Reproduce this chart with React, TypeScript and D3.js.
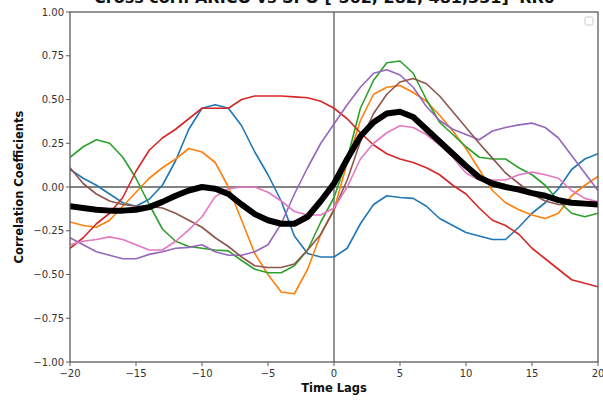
import React from "react";
import * as d3 from "d3";

const lags: number[] = d3.range(-20, 21);

const blueVals = [0.10, 0.05, 0.01, -0.04, -0.09, -0.11, -0.07, 0.01, 0.15, 0.33, 0.45, 0.47, 0.45, 0.35, 0.20, 0.07, -0.08, -0.28, -0.38, -0.40, -0.40, -0.35, -0.21, -0.10, -0.05, -0.06, -0.065, -0.11, -0.18, -0.22, -0.26, -0.28, -0.30, -0.30, -0.23, -0.15, -0.09, -0.01, 0.10, 0.16, 0.19];
const orangeVals = [-0.20, -0.22, -0.23, -0.19, -0.11, -0.03, 0.05, 0.11, 0.16, 0.22, 0.20, 0.14, 0.00, -0.19, -0.38, -0.50, -0.60, -0.61, -0.47, -0.27, -0.13, 0.14, 0.38, 0.53, 0.57, 0.58, 0.54, 0.49, 0.41, 0.32, 0.22, 0.10, -0.02, -0.09, -0.13, -0.16, -0.18, -0.15, -0.05, 0.01, 0.06];
const greenVals = [0.17, 0.23, 0.27, 0.25, 0.17, 0.05, -0.10, -0.24, -0.31, -0.34, -0.35, -0.36, -0.365, -0.42, -0.47, -0.49, -0.49, -0.45, -0.36, -0.20, -0.06, 0.16, 0.45, 0.61, 0.71, 0.72, 0.65, 0.50, 0.37, 0.30, 0.23, 0.17, 0.16, 0.16, 0.11, 0.07, 0.01, -0.08, -0.15, -0.17, -0.15];
const redVals = [-0.35, -0.29, -0.21, -0.15, -0.06, 0.09, 0.21, 0.28, 0.33, 0.39, 0.45, 0.45, 0.45, 0.50, 0.52, 0.52, 0.52, 0.515, 0.51, 0.49, 0.45, 0.39, 0.31, 0.24, 0.19, 0.16, 0.14, 0.11, 0.07, 0.01, -0.04, -0.12, -0.19, -0.22, -0.27, -0.35, -0.41, -0.47, -0.53, -0.55, -0.57];
const purpleVals = [-0.29, -0.33, -0.37, -0.39, -0.41, -0.41, -0.385, -0.37, -0.35, -0.345, -0.33, -0.37, -0.39, -0.39, -0.37, -0.33, -0.21, -0.04, 0.11, 0.25, 0.36, 0.47, 0.57, 0.65, 0.67, 0.64, 0.57, 0.46, 0.38, 0.33, 0.30, 0.27, 0.32, 0.34, 0.355, 0.365, 0.34, 0.28, 0.18, 0.08, -0.02];
const brownVals = [0.11, 0.02, -0.04, -0.08, -0.10, -0.11, -0.11, -0.12, -0.15, -0.19, -0.23, -0.29, -0.34, -0.40, -0.45, -0.46, -0.46, -0.44, -0.36, -0.27, -0.13, 0.04, 0.26, 0.42, 0.53, 0.60, 0.62, 0.59, 0.52, 0.43, 0.34, 0.25, 0.165, 0.08, 0.02, -0.04, -0.08, -0.10, -0.10, -0.10, -0.09];
const pinkVals = [-0.33, -0.31, -0.30, -0.285, -0.30, -0.33, -0.36, -0.36, -0.31, -0.245, -0.17, -0.055, -0.01, 0.00, 0.00, -0.03, -0.08, -0.14, -0.16, -0.16, -0.12, 0.00, 0.16, 0.25, 0.31, 0.35, 0.34, 0.30, 0.24, 0.17, 0.08, 0.04, 0.04, 0.04, 0.07, 0.085, 0.07, 0.05, -0.02, -0.065, -0.085];
const meanVals = [-0.11, -0.12, -0.13, -0.135, -0.135, -0.13, -0.115, -0.085, -0.05, -0.02, 0.00, -0.01, -0.04, -0.10, -0.155, -0.19, -0.21, -0.21, -0.17, -0.08, 0.02, 0.16, 0.29, 0.37, 0.42, 0.43, 0.40, 0.33, 0.26, 0.19, 0.12, 0.055, 0.02, 0.00, -0.015, -0.035, -0.05, -0.075, -0.09, -0.095, -0.10];

const colorSeries: { name: string; values: number[]; color: string }[] = [
  { name: "s0", values: blueVals, color: "#1f77b4" },
  { name: "s1", values: orangeVals, color: "#ff7f0e" },
  { name: "s2", values: greenVals, color: "#2ca02c" },
  { name: "s3", values: redVals, color: "#d62728" },
  { name: "s4", values: purpleVals, color: "#9467bd" },
  { name: "s5", values: brownVals, color: "#8c564b" },
  { name: "s6", values: pinkVals, color: "#e377c2" },
];

const xTicks = [-20, -15, -10, -5, 0, 5, 10, 15, 20];
const yTicks = [1, 0.75, 0.5, 0.25, 0, -0.25, -0.5, -0.75, -1];

const titleText = "Cross corr. ARICO vs SPO [-562, 282, 481,331] 'RR0'";
const xLabel = "Time Lags";
const yLabel = "Correlation Coefficients";

const W = 603;
const H = 401;
const L = 70;
const R = 598;
const T = 12;
const B = 362;

const fmt = (v: number) => (v < 0 ? "\u2212" : "") + Math.abs(v).toFixed(2);
const fmtX = (v: number) => (v < 0 ? "\u2212" : "") + Math.abs(v).toString();

export default function App() {
  const x = d3.scaleLinear().domain([-20, 20]).range([L, R]);
  const y = d3.scaleLinear().domain([-1, 1]).range([B, T]);
  const line = d3
    .line<number>()
    .x((_, i) => x(lags[i]))
    .y((d) => y(d));

  const font = "'DejaVu Sans', sans-serif";
  const axisColor = "#5a5a5a";
  const tickText = "#333";

  return (
    <div style={{ position: "absolute", left: 0, top: 0 }}>
      <svg width={W} height={H} style={{ display: "block", background: "#fff" }} fontFamily={font}>
        <rect x={0} y={0} width={W} height={H} fill="#fff" />
        <text x={327} y={2.5} textAnchor="middle" fontSize={16} fontWeight="bold" fill="#111">
          {titleText}
        </text>
        <defs>
          <clipPath id="plot">
            <rect x={L} y={T} width={R - L} height={B - T} />
          </clipPath>
        </defs>
        <line x1={L} x2={R} y1={y(0)} y2={y(0)} stroke={axisColor} strokeWidth={1.3} />
        <line x1={x(0)} x2={x(0)} y1={T} y2={B} stroke={axisColor} strokeWidth={1.3} />
        <g clipPath="url(#plot)">
          {colorSeries.map((s) => (
            <path key={s.name} d={line(s.values) || ""} fill="none" stroke={s.color} strokeWidth={1.6} strokeLinejoin="round" />
          ))}
          <path d={line(meanVals) || ""} fill="none" stroke="#000" strokeWidth={6} strokeLinejoin="round" strokeLinecap="round" />
        </g>
        <rect x={L} y={T} width={R - L} height={B - T} fill="none" stroke={axisColor} strokeWidth={1.3} />
        {yTicks.map((t) => (
          <g key={"y" + t}>
            <line x1={L - 4} x2={L} y1={y(t)} y2={y(t)} stroke={axisColor} strokeWidth={1} />
            <text x={L - 6} y={y(t)} dy="0.35em" textAnchor="end" fontSize={10} fill={tickText}>
              {fmt(t)}
            </text>
          </g>
        ))}
        {xTicks.map((t) => (
          <g key={"x" + t}>
            <line x1={x(t)} x2={x(t)} y1={B} y2={B + 4} stroke={axisColor} strokeWidth={1} />
            <text x={x(t)} y={B + 15} textAnchor="middle" fontSize={10} fill={tickText}>
              {fmtX(t)}
            </text>
          </g>
        ))}
        <text x={x(0)} y={392} textAnchor="middle" fontSize={11.5} fontWeight="bold" fill="#111">
          {xLabel}
        </text>
        <text transform={`translate(23, ${y(0)}) rotate(-90)`} textAnchor="middle" fontSize={11.5} fontWeight="bold" fill="#111">
          {yLabel}
        </text>
        <rect x={585} y={17} width={8} height={8} rx={1.5} fill="#fff" stroke="#ccc" strokeWidth={1} />
      </svg>
    </div>
  );
}
